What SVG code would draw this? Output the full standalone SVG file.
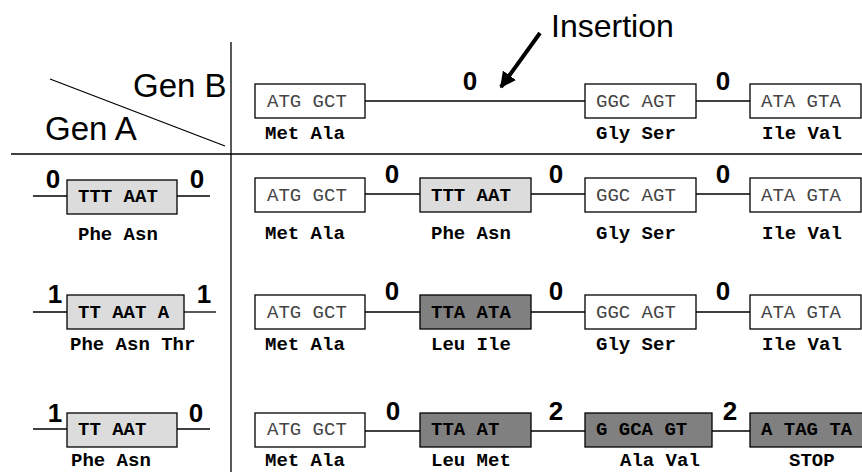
<svg xmlns="http://www.w3.org/2000/svg" width="862" height="472" viewBox="0 0 862 472">
<defs>
<style>
.ln{stroke:#000;stroke-width:1.3;fill:none}
.bx{stroke:#000;stroke-width:1.3}
.w{fill:#fff}
.lg{fill:#dcdcdc}
.dg{fill:#808080}
.cn{font-family:"Liberation Mono","Courier New",monospace;font-size:19px;fill:#444}
.cb{font-family:"Liberation Mono","Courier New",monospace;font-size:19px;font-weight:bold;fill:#000}
.aa{font-family:"Liberation Mono","Courier New",monospace;font-size:19px;font-weight:bold;fill:#000}
.num{font-family:"Liberation Sans",Arial,sans-serif;font-size:26px;font-weight:bold;fill:#000;text-anchor:middle}
.hd{font-family:"Liberation Sans",Arial,sans-serif;font-size:33px;fill:#000}
</style>
<marker id="ah" viewBox="0 0 10 10" refX="9" refY="5" markerWidth="4" markerHeight="4" orient="auto" markerUnits="strokeWidth">
<path d="M0,0 L10,5 L0,10 z" fill="#000"/>
</marker>
</defs>
<g id="grid">
<line class="ln" x1="231" y1="42" x2="231" y2="472"/>
<line class="ln" x1="11" y1="154" x2="862" y2="154"/>
<line class="ln" x1="50" y1="79" x2="225" y2="146"/>
<text class="hd" x="133" y="97">Gen B</text>
<text class="hd" x="45" y="140">Gen A</text>
</g>
<g id="insertion">
<text class="hd" x="551" y="37" style="font-size:32px">Insertion</text>
<line x1="540" y1="33" x2="501" y2="87" stroke="#000" stroke-width="4" marker-end="url(#ah)"/>
</g>
<g id="connectors">
<line class="ln" x1="365" y1="101" x2="585" y2="101"/>
<line class="ln" x1="696" y1="101" x2="750" y2="101"/>
<line class="ln" x1="365" y1="194" x2="420" y2="194"/>
<line class="ln" x1="531" y1="194" x2="585" y2="194"/>
<line class="ln" x1="696" y1="194" x2="750" y2="194"/>
<line class="ln" x1="365" y1="312" x2="420" y2="312"/>
<line class="ln" x1="531" y1="312" x2="585" y2="312"/>
<line class="ln" x1="696" y1="312" x2="750" y2="312"/>
<line class="ln" x1="365" y1="431" x2="420" y2="431"/>
<line class="ln" x1="531" y1="431" x2="585" y2="431"/>
<line class="ln" x1="712" y1="431" x2="750" y2="431"/>
<line class="ln" x1="33" y1="196" x2="67" y2="196"/>
<line class="ln" x1="177" y1="196" x2="210" y2="196"/>
<line class="ln" x1="33" y1="312" x2="67" y2="312"/>
<line class="ln" x1="184" y1="312" x2="216" y2="312"/>
<line class="ln" x1="33" y1="429" x2="67" y2="429"/>
<line class="ln" x1="177" y1="429" x2="210" y2="429"/>
</g>
<g id="numbers">
<text class="num" x="470" y="90">0</text>
<text class="num" x="723" y="90">0</text>
<text class="num" x="53" y="188">0</text>
<text class="num" x="197" y="188">0</text>
<text class="num" x="392" y="183">0</text>
<text class="num" x="556" y="183">0</text>
<text class="num" x="723" y="183">0</text>
<text class="num" x="55" y="303">1</text>
<text class="num" x="204" y="303">1</text>
<text class="num" x="392" y="300">0</text>
<text class="num" x="556" y="300">0</text>
<text class="num" x="723" y="300">0</text>
<text class="num" x="55" y="422">1</text>
<text class="num" x="196" y="422">0</text>
<text class="num" x="393" y="420">0</text>
<text class="num" x="556" y="420">2</text>
<text class="num" x="730" y="420">2</text>
</g>
<!-- Row 1 -->
<g id="r1b1"><rect class="bx w" x="255" y="84" width="110" height="34"/><text class="cn" x="267" y="107">ATG GCT</text><text class="aa" x="265" y="139">Met Ala</text></g>
<g id="r1b3"><rect class="bx w" x="585" y="84" width="111" height="34"/><text class="cn" x="596" y="107">GGC AGT</text><text class="aa" x="596" y="139">Gly Ser</text></g>
<g id="r1b4"><rect class="bx w" x="750" y="84" width="111" height="34"/><text class="cn" x="761" y="107">ATA GTA</text><text class="aa" x="762" y="139">Ile Val</text></g>
<!-- Row 2 -->
<g id="r2a"><rect class="bx lg" x="67" y="180" width="110" height="34"/><text class="cb" x="78" y="202">TTT AAT</text><text class="aa" x="78" y="240">Phe Asn</text></g>
<g id="r2b1"><rect class="bx w" x="255" y="178" width="110" height="34"/><text class="cn" x="267" y="201">ATG GCT</text><text class="aa" x="265" y="239">Met Ala</text></g>
<g id="r2b2"><rect class="bx lg" x="420" y="178" width="111" height="34"/><text class="cb" x="431" y="201">TTT AAT</text><text class="aa" x="431" y="239">Phe Asn</text></g>
<g id="r2b3"><rect class="bx w" x="585" y="178" width="111" height="34"/><text class="cn" x="596" y="201">GGC AGT</text><text class="aa" x="596" y="239">Gly Ser</text></g>
<g id="r2b4"><rect class="bx w" x="750" y="178" width="111" height="34"/><text class="cn" x="761" y="201">ATA GTA</text><text class="aa" x="762" y="239">Ile Val</text></g>
<!-- Row 3 -->
<g id="r3a"><rect class="bx lg" x="67" y="295" width="117" height="34"/><text class="cb" x="78" y="318">TT AAT A</text><text class="aa" x="70" y="350">Phe Asn Thr</text></g>
<g id="r3b1"><rect class="bx w" x="255" y="295" width="110" height="34"/><text class="cn" x="267" y="318">ATG GCT</text><text class="aa" x="265" y="350">Met Ala</text></g>
<g id="r3b2"><rect class="bx dg" x="420" y="295" width="111" height="34"/><text class="cb" x="431" y="318">TTA ATA</text><text class="aa" x="431" y="350">Leu Ile</text></g>
<g id="r3b3"><rect class="bx w" x="585" y="295" width="111" height="34"/><text class="cn" x="596" y="318">GGC AGT</text><text class="aa" x="596" y="350">Gly Ser</text></g>
<g id="r3b4"><rect class="bx w" x="750" y="295" width="111" height="34"/><text class="cn" x="761" y="318">ATA GTA</text><text class="aa" x="762" y="350">Ile Val</text></g>
<!-- Row 4 -->
<g id="r4a"><rect class="bx lg" x="67" y="413" width="110" height="34"/><text class="cb" x="78" y="435">TT AAT</text><text class="aa" x="71" y="466">Phe Asn</text></g>
<g id="r4b1"><rect class="bx w" x="255" y="413" width="110" height="34"/><text class="cn" x="267" y="435">ATG GCT</text><text class="aa" x="265" y="466">Met Ala</text></g>
<g id="r4b2"><rect class="bx dg" x="420" y="413" width="111" height="34"/><text class="cb" x="431" y="435">TTA AT</text><text class="aa" x="431" y="466">Leu Met</text></g>
<g id="r4b3"><rect class="bx dg" x="585" y="413" width="127" height="34"/><text class="cb" x="596" y="435">G GCA GT</text><text class="aa" x="620" y="466">Ala Val</text></g>
<g id="r4b4"><rect class="bx dg" x="750" y="413" width="127" height="34"/><text class="cb" x="761" y="435">A TAG TA</text><text class="aa" x="789" y="466">STOP</text></g>
</svg>
